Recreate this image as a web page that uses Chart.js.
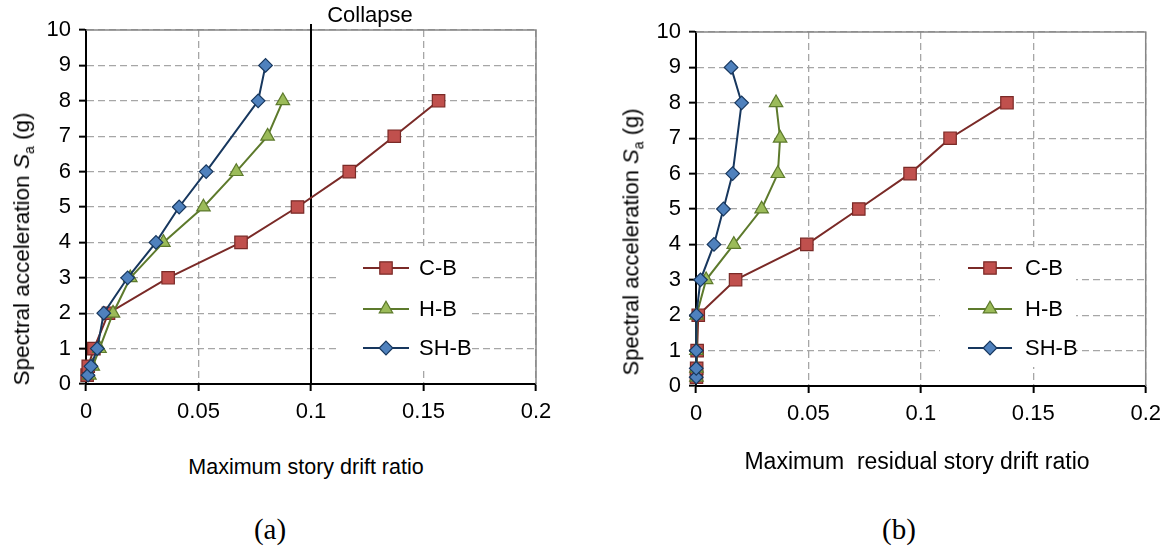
<!DOCTYPE html>
<html>
<head>
<meta charset="utf-8">
<script src="https://cdn.jsdelivr.net/npm/chart.js@4.4.0/dist/chart.umd.min.js"></script>
<style>
  body { margin: 0; width: 1169px; height: 546px; background: #fff; position: relative; overflow: hidden;
         font-family: "Liberation Sans", Arial, sans-serif; color: #000; }
  canvas { position: absolute; top: 0; }
  .lbl { position: absolute; white-space: pre; transform: translate(-50%, -50%); line-height: 1.15; }
  .ytitle { transform: translate(-50%, -50%) rotate(-90deg); }
  .sub { font-size: 14px; position: relative; top: 5px; }
  .cap { font-family: "Liberation Serif", "Times New Roman", serif; font-size: 29px; }
</style>
</head>
<body>
<canvas id="chartDrift" width="590" height="450" style="left:0px;width:590px;height:450px"></canvas>
<canvas id="chartResidual" width="569" height="450" style="left:600px;width:569px;height:450px"></canvas>

<div class="lbl" style="left:370px;top:15px;font-size:22px">Collapse</div>
<div class="lbl" style="left:306px;top:467px;font-size:21.5px">Maximum story drift ratio</div>
<div class="lbl ytitle" style="left:22px;top:249px;font-size:22.5px">Spectral acceleration <i>S</i><span class="sub">a</span> (g)</div>
<div class="lbl cap" style="left:270px;top:530px">(a)</div>

<div class="lbl" style="left:917px;top:461px;font-size:23px">Maximum  residual story drift ratio</div>
<div class="lbl ytitle" style="left:631px;top:242px;font-size:22px">Spectral acceleration <i>S</i><span class="sub">a</span> (g)</div>
<div class="lbl cap" style="left:899px;top:530px">(b)</div>

<script>
// niveaux de Sa (g) pour chaque courbe
const saCB  = [0.25, 0.5, 1, 2, 3, 4, 5, 6, 7, 8];
const saHB  = [0.25, 0.5, 1, 2, 3, 4, 5, 6, 7, 8];
const saSHB = [0.25, 0.5, 1, 2, 3, 4, 5, 6, 8, 9];

// (a) drift max
const driftCB  = [0.0005, 0.001, 0.0035, 0.010, 0.0365, 0.0689, 0.094, 0.117, 0.137, 0.1567];
const driftHB  = [0.0015, 0.003, 0.006, 0.012, 0.0197, 0.0344, 0.0522, 0.0668, 0.0807, 0.0875];
const driftSHB = [0.0009, 0.0022, 0.005, 0.0079, 0.0185, 0.0311, 0.0414, 0.0534, 0.0765, 0.0798];

// (b) drift résiduel
const residCB  = [0.0002, 0.0003, 0.0005, 0.001, 0.0176, 0.0493, 0.0724, 0.0952, 0.113, 0.1383];
const residHB  = [0.0002, 0.0002, 0.0002, 0.0003, 0.0045, 0.0168, 0.0292, 0.0364, 0.0374, 0.0356];
const residSHB = [0.0001, 0.0001, 0.0001, 0.0002, 0.002, 0.008, 0.0122, 0.0163, 0.0203, 0.0156];

const seriesNames = ['C-B', 'H-B', 'SH-B'];
const xTicks = [0, 0.05, 0.1, 0.15, 0.2];
const xTickLabels = ['0', '0.05', '0.1', '0.15', '0.2'];
const yTicks = [0, 1, 2, 3, 4, 5, 6, 7, 8, 9, 10];
const yTickLabels = ['0', '1', '2', '3', '4', '5', '6', '7', '8', '9', '10'];
const collapseDrift = 0.1;

const FONT = '"Liberation Sans", Arial, sans-serif';
const STYLE = {
    'C-B':  { line: '#7a2a27', fill: '#c0504d', shape: 'rect',     r: 8.8, order: 3 },
    'H-B':  { line: '#5d7a2c', fill: '#9bbb59', shape: 'triangle', r: 7.8, order: 2 },
    'SH-B': { line: '#17375e', fill: '#4f81bd', shape: 'rectRot',  r: 6.8, order: 1 }
};

function drawMarker(ctx, shape, x, y, r) {
    ctx.beginPath();
    if (shape === 'rect') {
        const h = r * Math.SQRT1_2;
        ctx.rect(x - h, y - h, 2 * h, 2 * h);
    } else if (shape === 'triangle') {
        for (let k = 0; k < 3; k++) {
            const a = -Math.PI / 2 + k * 2 * Math.PI / 3;
            const px = x + r * Math.cos(a), py = y + r * Math.sin(a);
            k ? ctx.lineTo(px, py) : ctx.moveTo(px, py);
        }
        ctx.closePath();
    } else {
        ctx.moveTo(x, y - r); ctx.lineTo(x + r, y); ctx.lineTo(x, y + r); ctx.lineTo(x - r, y);
        ctx.closePath();
    }
    ctx.fill(); ctx.stroke();
}

// cadre gris, ligne "Collapse" et légende à fond blanc
const framePlugin = {
    id: 'frame',
    beforeDatasetsDraw(chart, args, o) {
        const { ctx, chartArea: a, scales: { x } } = chart;
        ctx.save();
        ctx.strokeStyle = '#868686';
        ctx.lineWidth = 1.5;
        ctx.beginPath();
        ctx.moveTo(a.left, a.top); ctx.lineTo(a.right, a.top); ctx.lineTo(a.right, a.bottom);
        ctx.stroke();
        if (o.collapse != null) {
            const px = x.getPixelForValue(o.collapse);
            ctx.strokeStyle = '#000';
            ctx.lineWidth = 2;
            ctx.beginPath(); ctx.moveTo(px, a.top - 6); ctx.lineTo(px, a.bottom); ctx.stroke();
        }
        ctx.restore();
    },
    afterDraw(chart, args, o) {
        const ctx = chart.ctx, L = o.legend;
        ctx.save();
        ctx.fillStyle = '#fff';
        ctx.fillRect(L.box[0], L.box[1], L.box[2], L.box[3]);
        ctx.font = '22px ' + FONT;
        ctx.textBaseline = 'middle';
        seriesNames.forEach((name, i) => {
            const s = STYLE[name], y = L.rows[i];
            ctx.strokeStyle = s.line; ctx.lineWidth = 2;
            ctx.beginPath(); ctx.moveTo(L.x1, y); ctx.lineTo(L.x2, y); ctx.stroke();
            ctx.fillStyle = s.fill; ctx.lineWidth = 1.2;
            drawMarker(ctx, s.shape, (L.x1 + L.x2) / 2, y, s.r);
            ctx.fillStyle = '#000';
            ctx.fillText(name, L.tx, y + 1);
        });
        ctx.restore();
    }
};

function montarDatasets(xs) {
    const sas = [saCB, saHB, saSHB];
    return seriesNames.map((name, k) => {
        const s = STYLE[name];
        return {
            label: name,
            data: xs[k].map((v, i) => ({ x: v, y: sas[k][i] })),
            showLine: true,
            borderColor: s.line,
            borderWidth: 2,
            pointStyle: s.shape,
            pointRadius: s.r,
            pointHoverRadius: s.r,
            pointBackgroundColor: s.fill,
            pointBorderColor: s.line,
            pointBorderWidth: 1.2,
            clip: false,
            order: s.order
        };
    });
}

function eixo(ticks, labels, min, max, fit) {
    return {
        type: 'linear', min: min, max: max,
        afterBuildTicks: sc => { sc.ticks = ticks.map(v => ({ value: v })); },
        afterFit: fit,
        ticks: { callback: (v, i) => labels[i], font: { size: 22, family: FONT }, color: '#000',
                 padding: 8, maxRotation: 0, autoSkip: false },
        grid: { color: '#a6a6a6', lineWidth: 1.3, tickColor: '#000', tickWidth: 2, tickLength: 7, tickBorderDash: [] },
        border: { color: '#000', width: 2, dash: [7, 4] }
    };
}

function criarGrafico(id, xs, g) {
    return new Chart(document.getElementById(id), {
        type: 'scatter',
        data: { datasets: montarDatasets(xs) },
        options: {
            responsive: false, animation: false, events: [],
            layout: { padding: { left: 0, top: g.top, right: g.right, bottom: 0 } },
            scales: {
                x: eixo(xTicks, xTickLabels, 0, 0.2, sc => { sc.height = g.xh; }),
                y: eixo(yTicks, yTickLabels, 0, 10, sc => { sc.width = g.yw; })
            },
            plugins: {
                legend: { display: false }, tooltip: { enabled: false },
                frame: { collapse: g.collapse, legend: g.legend }
            }
        },
        plugins: [framePlugin]
    });
}

criarGrafico('chartDrift', [driftCB, driftHB, driftSHB], {
    top: 30, right: 54, xh: 66, yw: 86, collapse: collapseDrift,
    legend: { box: [338, 247, 134, 120], x1: 363, x2: 409, tx: 419, rows: [268, 309, 348] }
});
criarGrafico('chartResidual', [residCB, residHB, residSHB], {
    top: 32, right: 23, xh: 64, yw: 96, collapse: null,
    legend: { box: [340, 247, 136, 120], x1: 368, x2: 412, tx: 425, rows: [268, 309, 348] }
});
</script>
</body>
</html>
